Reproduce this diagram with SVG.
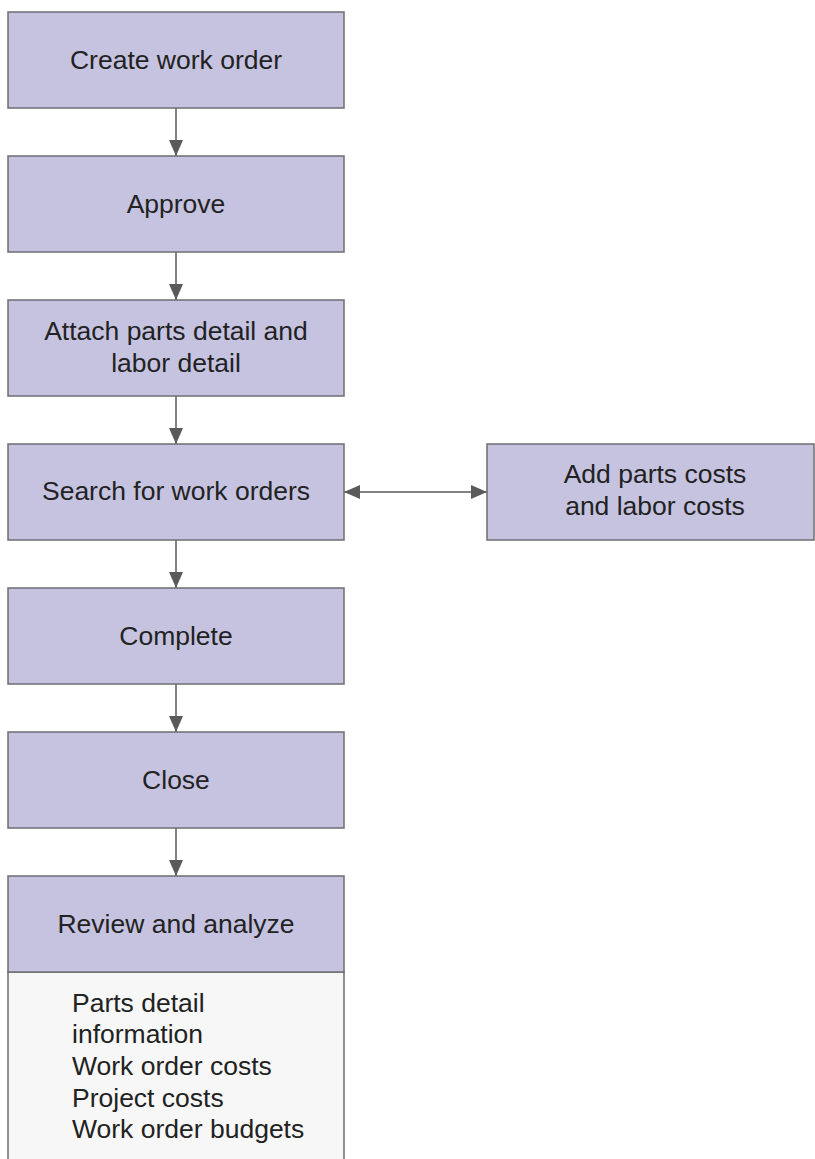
<svg xmlns="http://www.w3.org/2000/svg" width="815" height="1159" viewBox="0 0 815 1159">
<style>
.box{fill:#c6c3e1;stroke:#6e6e6e;stroke-width:1.5}
.panel{fill:#f7f7f7;stroke:#6e6e6e;stroke-width:1.5}
.t{font-family:"Liberation Sans",Arial,sans-serif;font-size:26.5px;fill:#222;text-anchor:middle}
.tl{font-family:"Liberation Sans",Arial,sans-serif;font-size:26.5px;fill:#222}
.c{stroke:#5a5a5a;stroke-width:1.5;fill:none}
</style>
<defs>
<marker id="ah" markerUnits="userSpaceOnUse" markerWidth="16" markerHeight="16" viewBox="0 0 16 16" refX="16" refY="8" orient="auto-start-reverse">
<path d="M0,1 L16,8 L0,15 Z" fill="#5a5a5a"/>
</marker>
</defs>
<g id="connectors">
<line class="c" x1="176" y1="108" x2="176" y2="156" marker-end="url(#ah)"/>
<line class="c" x1="176" y1="252" x2="176" y2="300" marker-end="url(#ah)"/>
<line class="c" x1="176" y1="396" x2="176" y2="444" marker-end="url(#ah)"/>
<line class="c" x1="176" y1="540" x2="176" y2="588" marker-end="url(#ah)"/>
<line class="c" x1="176" y1="684" x2="176" y2="732" marker-end="url(#ah)"/>
<line class="c" x1="176" y1="828" x2="176" y2="876" marker-end="url(#ah)"/>
<line class="c" x1="344" y1="492" x2="487" y2="492" marker-start="url(#ah)" marker-end="url(#ah)"/>
</g>
<g id="create"><rect class="box" x="8" y="12" width="336" height="96"/><text class="t" x="176" y="69">Create work order</text></g>
<g id="approve"><rect class="box" x="8" y="156" width="336" height="96"/><text class="t" x="176" y="213">Approve</text></g>
<g id="attach"><rect class="box" x="8" y="300" width="336" height="96"/><text class="t" x="176" y="340">Attach parts detail and</text><text class="t" x="176" y="372">labor detail</text></g>
<g id="search"><rect class="box" x="8" y="444" width="336" height="96"/><text class="t" x="176" y="500">Search for work orders</text></g>
<g id="addcosts"><rect class="box" x="487" y="444" width="327" height="96"/><text class="t" x="655" y="483">Add parts costs</text><text class="t" x="655" y="515">and labor costs</text></g>
<g id="complete"><rect class="box" x="8" y="588" width="336" height="96"/><text class="t" x="176" y="645">Complete</text></g>
<g id="close"><rect class="box" x="8" y="732" width="336" height="96"/><text class="t" x="176" y="789">Close</text></g>
<g id="review">
<path class="panel" d="M8,1160 L8,972 L344,972 L344,1160"/>
<rect class="box" x="8" y="876" width="336" height="96"/>
<text class="t" x="176" y="933">Review and analyze</text>
<text class="tl" x="72" y="1012">Parts detail</text>
<text class="tl" x="72" y="1043">information</text>
<text class="tl" x="72" y="1075">Work order costs</text>
<text class="tl" x="72" y="1107">Project costs</text>
<text class="tl" x="72" y="1138">Work order budgets</text>
</g>
</svg>
